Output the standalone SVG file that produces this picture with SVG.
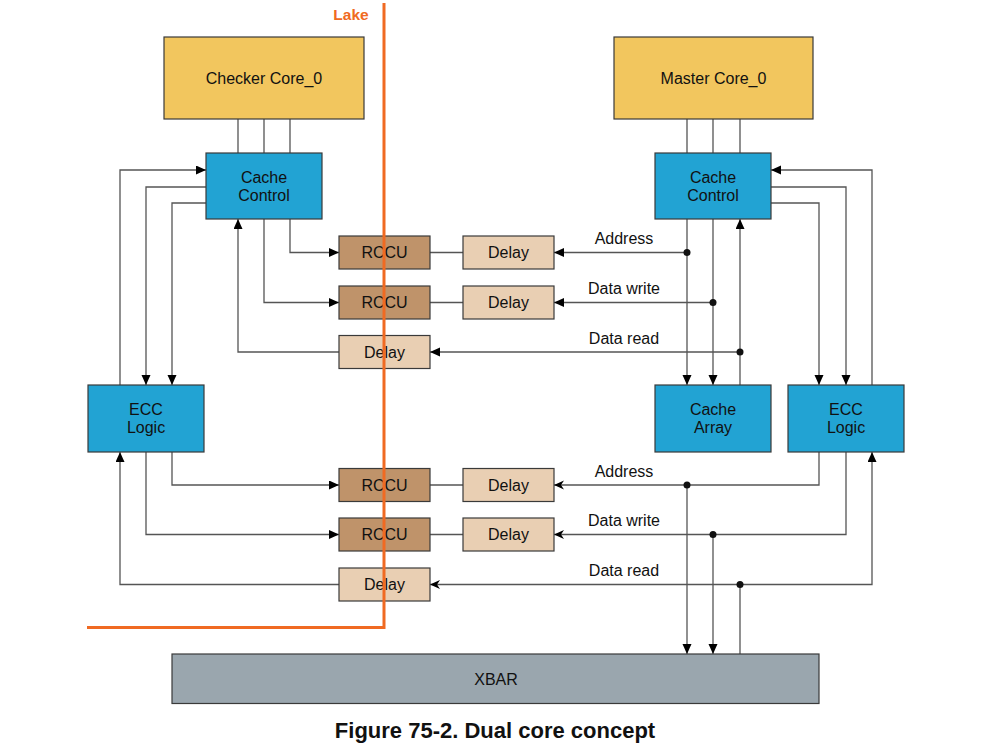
<svg xmlns="http://www.w3.org/2000/svg" width="999" height="756" viewBox="0 0 999 756">
<defs>
<style>
.box{stroke:#3a3a3a;stroke-width:1.2}
.core{fill:#f2c65e}
.blue{fill:#22a3d3}
.rccu{fill:#bf936a}
.delay{fill:#e9cfb3}
.xbar{fill:#9aa6ae}
.t{font-family:"Liberation Sans",Arial,sans-serif;font-size:16px;fill:#111;text-anchor:middle}
.lbl{font-family:"Liberation Sans",Arial,sans-serif;font-size:16px;fill:#111;text-anchor:middle}
.w{fill:none;stroke:#555;stroke-width:1.3}
.a{marker-end:url(#arr)}
.b{marker-end:url(#barb)}
.dot{fill:#111}
.lake{fill:none;stroke:#f06a22;stroke-width:3}
</style>
<marker id="arr" markerUnits="userSpaceOnUse" markerWidth="11" markerHeight="10" refX="10" refY="4.5" orient="auto">
<path d="M0,0 L10,4.5 L0,9 z" fill="#000"/>
</marker>
<marker id="barb" markerUnits="userSpaceOnUse" markerWidth="11" markerHeight="10" refX="10" refY="4.5" orient="auto">
<path d="M0,0 L10,4.5 L0,9 L3,4.5 z" fill="#000"/>
</marker>
</defs>
<rect width="999" height="756" fill="#fff"/>

<g id="connectors">
<!-- core to cache control -->
<path class="w" d="M238,119V153M264,119V153M290,119V153M687,119V153M713,119V153M740,119V153"/>
<!-- left top -->
<path class="w a" d="M120,385V170H206"/>
<path class="w a" d="M206,187H146V385"/>
<path class="w a" d="M206,203H172V385"/>
<path class="w a" d="M290,219V252.5H339"/>
<path class="w a" d="M264,219V302.5H339"/>
<path class="w a" d="M339,352H238V219"/>
<path class="w" d="M430,252.5H463M430,302.5H463"/>
<!-- right top -->
<path class="w a" d="M687,219V385"/>
<path class="w a" d="M713,219V385"/>
<path class="w a" d="M740,385V219"/>
<path class="w a" d="M687,252.5H554"/>
<path class="w a" d="M713,302.5H554"/>
<path class="w a" d="M740,352H430"/>
<path class="w a" d="M872,385V170H771"/>
<path class="w a" d="M771,187H846V385"/>
<path class="w a" d="M771,203H819V385"/>
<!-- left bottom -->
<path class="w a" d="M172,452V485H339"/>
<path class="w a" d="M146,452V534.5H339"/>
<path class="w a" d="M339,584.5H120V452"/>
<path class="w" d="M430,485H463M430,534.5H463"/>
<!-- right bottom -->
<path class="w b" d="M819,452V485H554"/>
<path class="w b" d="M846,452V534.5H554"/>
<path class="w a" d="M687,485V654"/>
<path class="w a" d="M713,534.5V654"/>
<path class="w" d="M740,654V584.5"/>
<path class="w b" d="M740,584.5H430"/>
<path class="w a" d="M740,584.5H872V452"/>
<!-- junction dots -->
<circle class="dot" cx="687" cy="252.5" r="3.5"/>
<circle class="dot" cx="713" cy="302.5" r="3.5"/>
<circle class="dot" cx="740" cy="352" r="3.5"/>
<circle class="dot" cx="687" cy="485" r="3.5"/>
<circle class="dot" cx="713" cy="534.5" r="3.5"/>
<circle class="dot" cx="740" cy="584.5" r="3.5"/>
<!-- labels -->
<text class="lbl" x="624" y="244">Address</text>
<text class="lbl" x="624" y="294">Data write</text>
<text class="lbl" x="624" y="343.5">Data read</text>
<text class="lbl" x="624" y="476.5">Address</text>
<text class="lbl" x="624" y="526">Data write</text>
<text class="lbl" x="624" y="576">Data read</text>
</g>

<g id="checker-core"><rect class="box core" x="164" y="37" width="200" height="82"/><text class="t" x="264" y="84">Checker Core_0</text></g>
<g id="master-core"><rect class="box core" x="614" y="37" width="199" height="82"/><text class="t" x="713.5" y="84">Master Core_0</text></g>
<g id="cache-control-left"><rect class="box blue" x="206" y="153" width="116" height="66"/><text class="t" x="264" y="183">Cache</text><text class="t" x="264" y="201">Control</text></g>
<g id="cache-control-right"><rect class="box blue" x="655" y="153" width="116" height="66"/><text class="t" x="713" y="183">Cache</text><text class="t" x="713" y="201">Control</text></g>
<g id="ecc-left"><rect class="box blue" x="88" y="385" width="116" height="67"/><text class="t" x="146" y="415">ECC</text><text class="t" x="146" y="433">Logic</text></g>
<g id="cache-array"><rect class="box blue" x="655" y="385" width="116" height="67"/><text class="t" x="713" y="415">Cache</text><text class="t" x="713" y="433">Array</text></g>
<g id="ecc-right"><rect class="box blue" x="788" y="385" width="116" height="67"/><text class="t" x="846" y="415">ECC</text><text class="t" x="846" y="433">Logic</text></g>

<g id="rccu1"><rect class="box rccu" x="339" y="236" width="91" height="33"/><text class="t" x="384.5" y="258">RCCU</text></g>
<g id="delay1"><rect class="box delay" x="463" y="236" width="91" height="33"/><text class="t" x="508.5" y="258">Delay</text></g>
<g id="rccu2"><rect class="box rccu" x="339" y="286" width="91" height="33"/><text class="t" x="384.5" y="308">RCCU</text></g>
<g id="delay2"><rect class="box delay" x="463" y="286" width="91" height="33"/><text class="t" x="508.5" y="308">Delay</text></g>
<g id="delay3"><rect class="box delay" x="339" y="335.5" width="91" height="33"/><text class="t" x="384.5" y="357.5">Delay</text></g>
<g id="rccu3"><rect class="box rccu" x="339" y="468.5" width="91" height="33"/><text class="t" x="384.5" y="490.5">RCCU</text></g>
<g id="delay4"><rect class="box delay" x="463" y="468.5" width="91" height="33"/><text class="t" x="508.5" y="490.5">Delay</text></g>
<g id="rccu4"><rect class="box rccu" x="339" y="518" width="91" height="33"/><text class="t" x="384.5" y="540">RCCU</text></g>
<g id="delay5"><rect class="box delay" x="463" y="518" width="91" height="33"/><text class="t" x="508.5" y="540">Delay</text></g>
<g id="delay6"><rect class="box delay" x="339" y="568" width="91" height="33"/><text class="t" x="384.5" y="590">Delay</text></g>

<g id="xbar"><rect class="box xbar" x="172" y="654" width="647" height="49.5"/><text class="t" x="496" y="685">XBAR</text></g>

<g id="lake">
<path class="lake" d="M384,3V627.5H87"/>
<text x="351" y="20" style="font-family:'Liberation Sans',Arial,sans-serif;font-size:15.5px;font-weight:bold;fill:#f06a22;text-anchor:middle">Lake</text>
</g>

<text x="495" y="737.5" style="font-family:'Liberation Sans',Arial,sans-serif;font-size:22px;font-weight:bold;fill:#111;text-anchor:middle">Figure 75-2. Dual core concept</text>
</svg>
